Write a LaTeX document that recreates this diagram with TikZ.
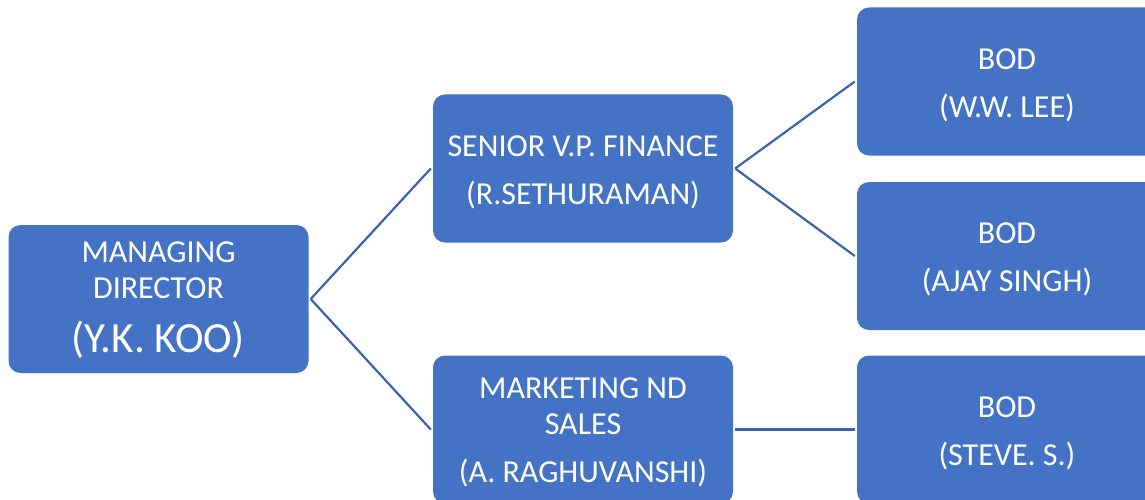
\documentclass[tikz,border=0pt]{standalone}
\usepackage{fontspec}
\setmainfont{Carlito}
\definecolor{boxfill}{HTML}{4472C4}
\definecolor{linkc}{HTML}{3A62AE}
\begin{document}
\begin{tikzpicture}[x=1pt,y=-1pt,
  box/.style={fill=boxfill,draw=none,rounded corners=12pt,minimum width=300pt,minimum height=148pt,inner sep=0pt},
  txt/.style={text=white,align=center,font=\fontsize{32}{36}\selectfont,inner sep=0pt},
  link/.style={draw=linkc,line width=2.2pt}]
\useasboundingbox (0,0) rectangle (1145,500);
\node[box] (md) at (158.5,299) {};
\node[box] (svp) at (583,168.5) {};
\node[box] (mkt) at (583,429.5) {};
\node[box] (b1) at (1007,81.5) {};
\node[box] (b2) at (1007,256) {};
\node[box] (b3) at (1007,429.5) {};
\node[txt] (mdt) at ([yshift=-1pt]md.center) {MANAGING\\DIRECTOR\\[18pt]{\fontsize{43}{36}\selectfont(Y.K. KOO)}};
\node[txt] (svpt) at ([yshift=-3.5pt]svp.center) {SENIOR V.P. FINANCE\\[12pt](R.SETHURAMAN)};
\node[txt] (mktt) at ([yshift=-3pt]mkt.center) {MARKETING ND\\SALES\\[12pt](A. RAGHUVANSHI)};
\node[txt] (b1t) at ([yshift=-3.5pt]b1.center) {BOD\\[12pt](W.W. LEE)};
\node[txt] (b2t) at ([yshift=-3.5pt]b2.center) {BOD\\[12pt](AJAY SINGH)};
\node[txt] (b3t) at ([yshift=-3.5pt]b3.center) {BOD\\[12pt](STEVE. S.)};
\coordinate (mdr) at ([xshift=2pt]md.east);
\coordinate (svpr) at ([xshift=2pt]svp.east);
\draw[link] (mdr) -- ([xshift=-2pt]svp.west);
\draw[link] (mdr) -- ([xshift=-2pt]mkt.west);
\draw[link] (svpr) -- ([xshift=-2pt]b1.west);
\draw[link] (svpr) -- ([xshift=-2pt]b2.west);
\draw[link] ([xshift=2pt]mkt.east) -- ([xshift=-2pt]b3.west);
\end{tikzpicture}
\end{document}
